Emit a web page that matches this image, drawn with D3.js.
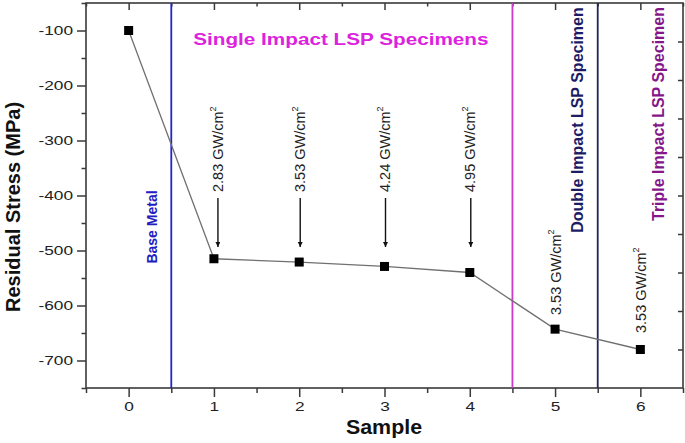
<!DOCTYPE html>
<html>
<head>
<meta charset="utf-8">
<script src="https://cdn.jsdelivr.net/npm/d3@7"></script>
<style>
  html, body { margin: 0; padding: 0; background: #fff; }
  svg { display: block; font-family: "Liberation Sans", Arial, sans-serif; }
</style>
</head>
<body>
<svg id="chart" width="685" height="443"></svg>
<script>
// ---- data ----
const samples = [0, 1, 2, 3, 4, 5, 6];
const stress = [-100, -515, -521, -529, -540, -643, -680];
const xTicks = [0, 1, 2, 3, 4, 5, 6];
const yTicks = [-100, -200, -300, -400, -500, -600, -700];
const intensityLabels = ["2.83", "3.53", "4.24", "4.95", "3.53", "3.53"];
const labelSamples = [1, 2, 3, 4, 5, 6];
const arrowSamples = [1, 2, 3, 4];
const dividers = [0.5, 4.5, 5.5];
const dividerColors = ["#2323c8", "#c83cc8", "#23235a"];

const W = 685, H = 443;
const m = { left: 86, right: 683, top: 3, bottom: 388 };
const svg = d3.select("#chart");

const x = d3.scaleLinear().domain([-0.5, 6.5]).range([m.left, m.right]);
const y = d3.scaleLinear().domain([-750, -50]).range([m.bottom, m.top]);
const yR = d3.scaleLinear().domain([0, 10]).range([m.bottom, m.top]);

const axisColor = "#3a3a3a";
const hs = 1.33; // horizontal text stretch
const plain = d => String(d);

// frame
svg.append("rect").attr("x", m.left).attr("y", m.top)
  .attr("width", m.right - m.left).attr("height", m.bottom - m.top)
  .attr("fill", "none").attr("stroke", axisColor).attr("stroke-width", 1.6);

// bottom axis major
const gx = svg.append("g").attr("transform", `translate(0,${m.bottom})`)
  .call(d3.axisBottom(x).tickValues(xTicks).tickSize(9).tickPadding(5).tickFormat(plain));
// bottom minor
svg.append("g").attr("transform", `translate(0,${m.bottom})`)
  .call(d3.axisBottom(x).tickValues(d3.range(-0.5, 6.6, 1)).tickSize(5).tickFormat(""));
// top axis ticks inward
svg.append("g").attr("transform", `translate(0,${m.top})`)
  .call(d3.axisBottom(x).tickValues(xTicks).tickSize(7).tickFormat(""));
svg.append("g").attr("transform", `translate(0,${m.top})`)
  .call(d3.axisBottom(x).tickValues(d3.range(-0.5, 6.6, 1)).tickSize(3.5).tickFormat(""));

// left axis
const gy = svg.append("g").attr("transform", `translate(${m.left},0)`)
  .call(d3.axisLeft(y).tickValues(yTicks).tickSize(9).tickPadding(4).tickFormat(plain));
svg.append("g").attr("transform", `translate(${m.left},0)`)
  .call(d3.axisLeft(y).tickValues(d3.range(-750, -49, 50).filter(v => v % 100 !== 0)).tickSize(4.5).tickFormat(""));
// right axis (inward ticks)
svg.append("g").attr("transform", `translate(${m.right},0)`)
  .call(d3.axisLeft(yR).tickValues(d3.range(1, 10)).tickSize(5).tickFormat(""));

svg.selectAll(".domain").remove();
svg.selectAll(".tick line").attr("stroke", axisColor).attr("stroke-width", 1.5);

gx.selectAll("text").attr("font-size", 13).attr("fill", "#222")
  .attr("font-family", "Liberation Sans, Arial, sans-serif")
  .each(function () {
    const t = d3.select(this);
    const yy = +t.attr("y");
    t.attr("y", 0).attr("transform", `translate(0,${yy}) scale(${hs},1)`);
  });
gy.selectAll("text").attr("font-size", 13).attr("fill", "#222")
  .attr("font-family", "Liberation Sans, Arial, sans-serif")
  .each(function () {
    const t = d3.select(this);
    const xx = +t.attr("x");
    t.attr("x", 0).attr("transform", `translate(${xx},0) scale(${hs},1)`);
  });

// divider lines
dividers.forEach((d, i) => {
  svg.append("line").attr("x1", x(d)).attr("x2", x(d))
    .attr("y1", m.top).attr("y2", m.bottom)
    .attr("stroke", dividerColors[i]).attr("stroke-width", 1.8);
});

// series line
svg.append("path")
  .datum(samples.map((s, i) => [s, stress[i]]))
  .attr("fill", "none").attr("stroke", "#707070").attr("stroke-width", 1.3)
  .attr("d", d3.line().x(d => x(d[0])).y(d => y(d[1])));

// markers
svg.selectAll(".pt").data(samples).enter().append("rect")
  .attr("x", (d, i) => x(d) - 4.5).attr("y", (d, i) => y(stress[i]) - 4.5)
  .attr("width", 9).attr("height", 9).attr("fill", "#000");

// arrow marker
svg.append("defs").append("marker")
  .attr("id", "arr").attr("viewBox", "0 0 10 10").attr("refX", 10).attr("refY", 5)
  .attr("markerWidth", 5).attr("markerHeight", 5).attr("markerUnits", "userSpaceOnUse")
  .attr("orient", "auto")
  .append("path").attr("d", "M0,0 L10,5 L0,10 z").attr("fill", "#111");

svg.selectAll(".arrow").data(arrowSamples).enter().append("line")
  .attr("x1", (d, i) => x(d) + (i === 0 ? 4 : 1)).attr("x2", (d, i) => x(d) + (i === 0 ? 4 : 1))
  .attr("y1", 198).attr("y2", 247)
  .attr("stroke", "#111").attr("stroke-width", 1.4)
  .attr("marker-end", "url(#arr)");

// intensity labels (rotated)
const labelStartY = [192, 192, 192, 192, 315, 333];
labelSamples.forEach((s, i) => {
  const bx = x(s) + (i === 0 ? 9 : 5.5);
  const t = svg.append("text")
    .attr("transform", `translate(${bx},${labelStartY[i]}) rotate(-90)`)
    .attr("font-size", 14.5).attr("fill", "#222");
  t.append("tspan").text(intensityLabels[i] + " GW/cm");
  t.append("tspan").attr("font-size", 9).attr("dy", -7).text("2");
});

// group labels
svg.append("text")
  .attr("transform", `translate(${x(2.5) - 1},45) scale(1.27,1)`)
  .attr("text-anchor", "middle").attr("font-size", 16.3).attr("font-weight", "bold")
  .attr("fill", "#dd22dd").text("Single Impact LSP Specimens");

svg.append("text")
  .attr("transform", `translate(157,227) rotate(-90)`)
  .attr("text-anchor", "middle").attr("font-size", 14).attr("font-weight", "bold")
  .attr("fill", "#2020c0").text("Base Metal");

svg.append("text")
  .attr("transform", `translate(583,120) rotate(-90)`)
  .attr("text-anchor", "middle").attr("font-size", 16).attr("font-weight", "bold")
  .attr("fill", "#1c1c66").text("Double Impact LSP Specimen");

svg.append("text")
  .attr("transform", `translate(664,114) rotate(-90)`)
  .attr("text-anchor", "middle").attr("font-size", 16).attr("font-weight", "bold")
  .attr("fill", "#84168a").text("Triple Impact LSP Specimen");

// axis titles
svg.append("text")
  .attr("transform", `translate(20,207) rotate(-90)`)
  .attr("text-anchor", "middle").attr("font-size", 20).attr("font-weight", "bold")
  .attr("fill", "#111").text("Residual Stress (MPa)");

svg.append("text")
  .attr("transform", `translate(${x(3) - 0.5},434) scale(1.07,1)`)
  .attr("text-anchor", "middle").attr("font-size", 20).attr("font-weight", "bold")
  .attr("fill", "#111").text("Sample");
</script>
</body>
</html>
